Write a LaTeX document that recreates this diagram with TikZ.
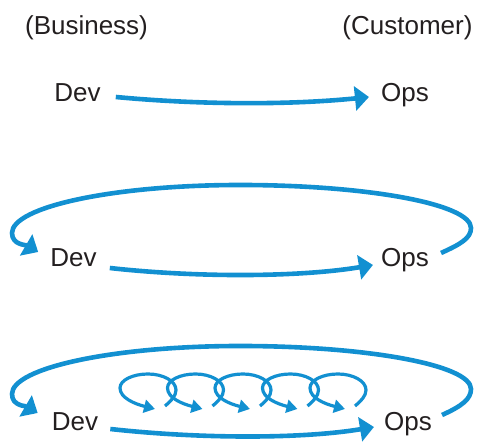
\documentclass[tikz,border=0pt]{standalone}
\usepackage{fontspec}
\setmainfont{Liberation Sans}
\usetikzlibrary{arrows.meta}
\definecolor{loopblue}{RGB}{18,144,209}
\definecolor{inkgray}{RGB}{35,31,32}

\begin{document}
\begin{tikzpicture}[
  x=1pt, y=1pt,
  tag/.style={anchor=base, inner sep=0pt, text=inkgray, font=\fontsize{26}{30}\selectfont},
  flow/.style={draw=loopblue, line width=4.6pt, -{Triangle[length=14pt,width=24pt]}},
  spin/.style={draw=loopblue, line width=3.2pt, -{Triangle[length=11pt,width=13pt]}}
]
\useasboundingbox (0,0) rectangle (477,443);

% Headings
\node[tag] (biz) at (86.5,408) {(Business)};
\node[tag] (cust) at (407.5,408) {(Customer)};

% Row labels
\node[tag] (dev1) at (77.5,341) {Dev};
\node[tag] (ops1) at (405,341) {Ops};
\node[tag] (dev2) at (73.5,176) {Dev};
\node[tag] (ops2) at (405,176) {Ops};
\node[tag] (dev3) at (75,12) {Dev};
\node[tag] (ops3) at (408,12) {Ops};

% One way
\draw[flow] ([shift={(15,5)}]dev1.base east) .. controls +(85,-8) and +(-78,-8) .. ([shift={(-12,5)}]ops1.base west);

% Feedback loop
\draw[flow] ([shift={(13,-1)}]dev2.base east) .. controls +(90,-10) and +(-72,-12) .. ([shift={(-8,2)}]ops2.base west);
\draw[flow] ([shift={(12,14)}]ops2.base east) .. controls +(20,9) and (471,205) .. (471,215)
  .. controls (471,239) and (367,258) .. (240,258)
  .. controls (113,258) and (12,236) .. (12,210)
  .. controls (12,198) and +(-12,7) .. ([shift={(-12,15)}]dev2.base west);

% Feedback loop with small loops
\draw[flow] ([shift={(12,2)}]dev3.base east) .. controls +(90,-10) and +(-72,-12) .. ([shift={(-10,4)}]ops3.base west);
\draw[flow] ([shift={(10,16)}]ops3.base east) .. controls +(20,9) and (471,44) .. (471,54)
  .. controls (471,78) and (367,97) .. (240,97)
  .. controls (113,97) and (12,75) .. (12,49)
  .. controls (12,37) and +(-12,7) .. ([shift={(-14,18)}]dev3.base west);

\foreach \k in {0,...,4}
  \draw[spin, shift={(47.5*\k,0)}] (165,37) .. controls (171,42) and (176,47) .. (176,53)
    .. controls (176,62) and (163,69) .. (148,69)
    .. controls (133,69) and (120,63) .. (120,55)
    .. controls (120,45) and (135,39) .. (155,34);
\end{tikzpicture}
\end{document}
